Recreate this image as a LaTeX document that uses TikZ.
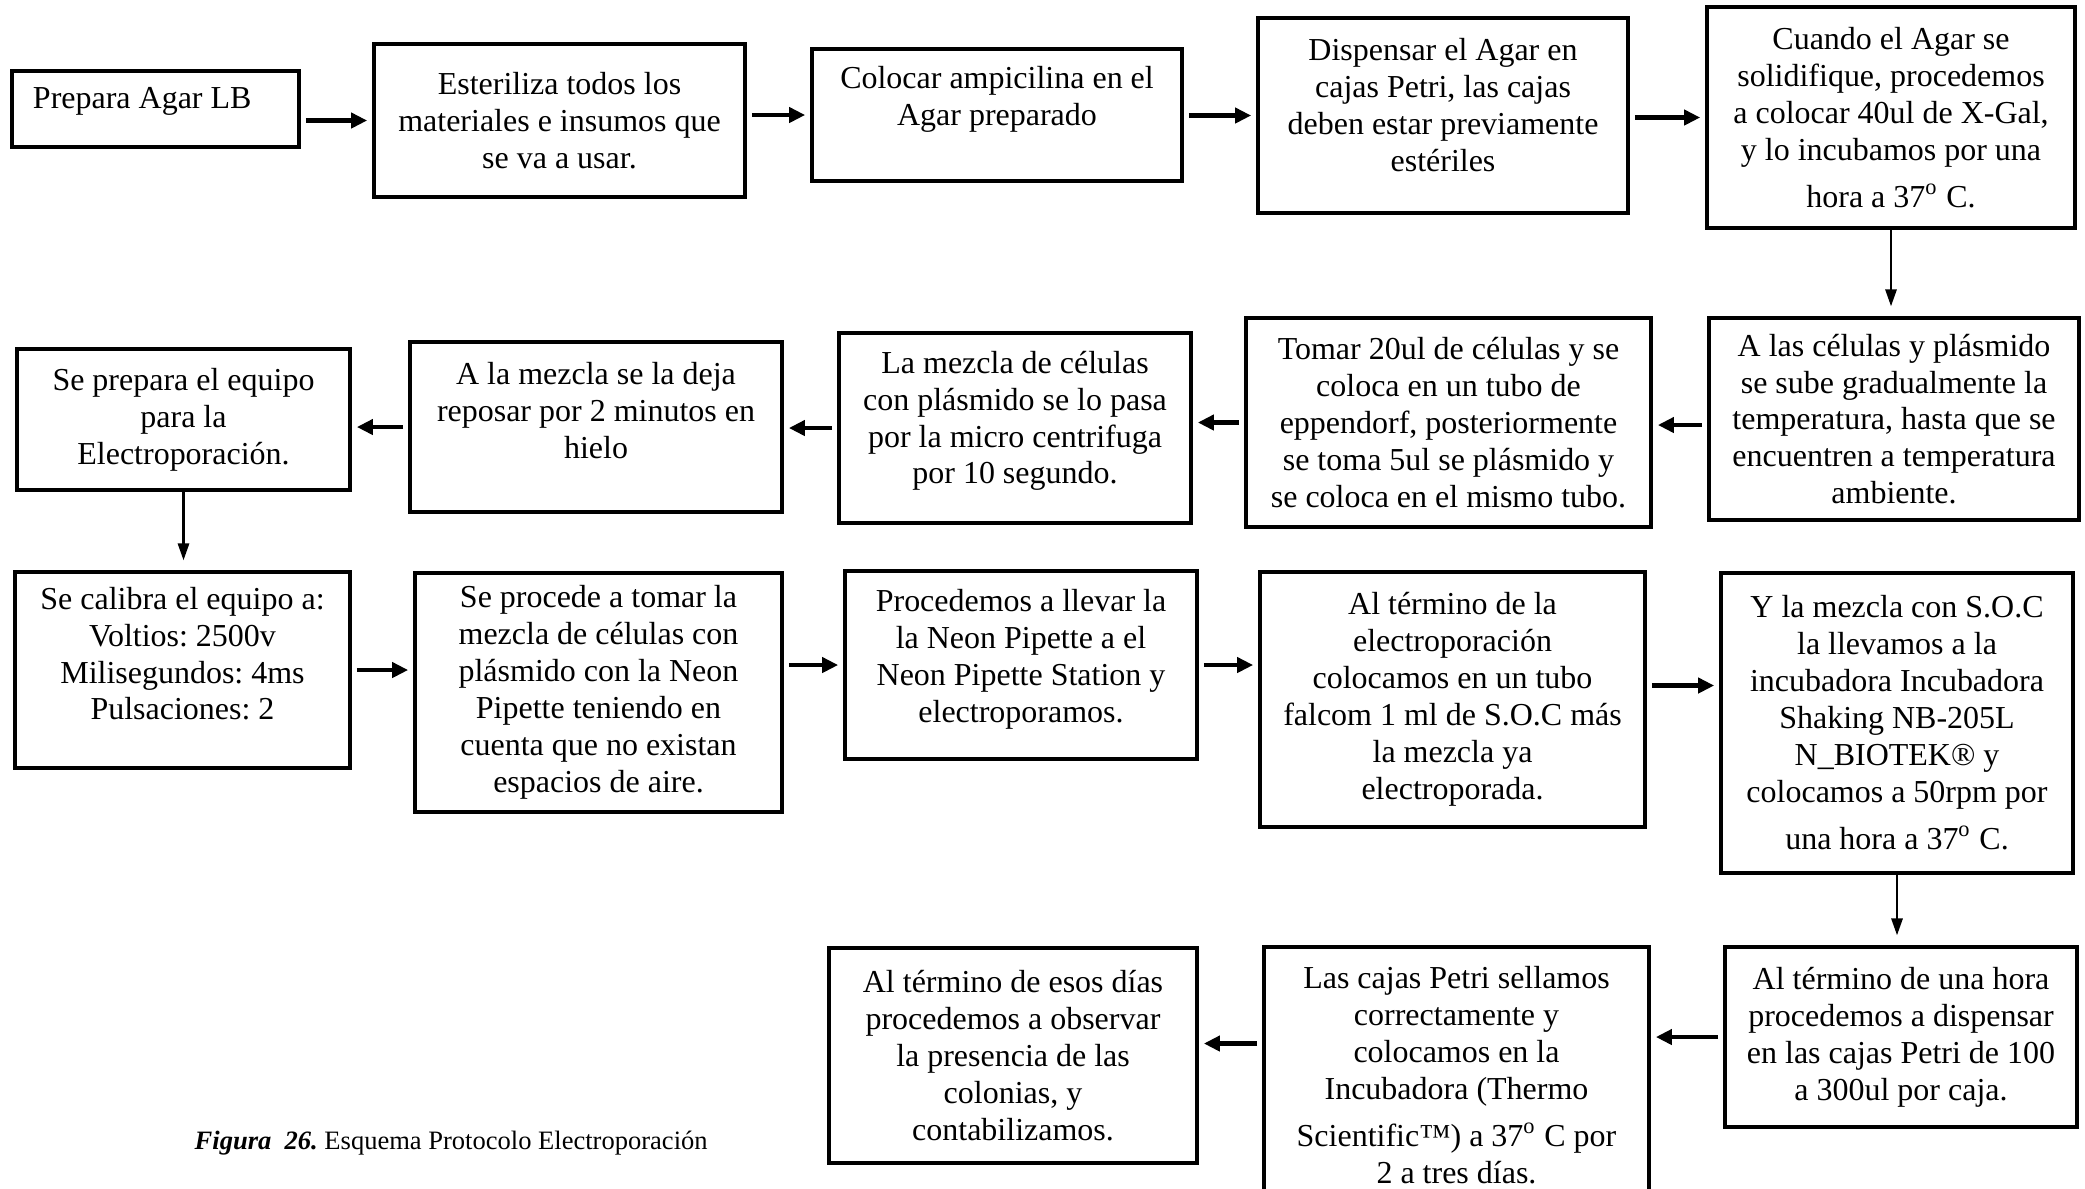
\documentclass[tikz,border=0pt]{standalone}
\usepackage{fontspec}
\setmainfont{Liberation Serif}
\usetikzlibrary{arrows.meta}
\frenchspacing

\begin{document}
\begin{tikzpicture}[paso/.style={draw, line width=0.9pt, align=center, inner sep=2pt, font=\fontsize{9.1}{10.5}\selectfont}, caja/.style 2 args={paso, minimum width=#1, minimum height=#2}, sube/.style={text depth=#1}, flecha/.style={-{Triangle[length=0.16cm,width=0.15cm]}, line width=1.3pt, shorten <=1.5pt, shorten >=1.5pt}, abajo/.style={-{Triangle[length=0.17cm,width=0.11cm]}, line width=0.8pt, shorten >=0.1cm}]
\useasboundingbox (0,0) rectangle (20.85,-11.88);
\clip (0,0) rectangle (20.85,-11.88);
% fila 1
\node[caja={2.87cm}{0.76cm}, text width=2.45cm, align=flush left, sube=6.5pt] (b1) at (1.555,-1.09) {Prepara Agar LB};
\node[caja={3.71cm}{1.53cm}] (b2) at (5.595,-1.205) {Esteriliza todos los\\materiales e insumos que\\se va a usar.};
\node[caja={3.70cm}{1.32cm}, sube=11pt] (b3) at (9.97,-1.15) {Colocar ampicilina en el\\Agar preparado};
\node[caja={3.70cm}{1.95cm}, sube=6pt] (b4) at (14.43,-1.155) {Dispensar el Agar en\\cajas Petri, las cajas\\deben estar previamente\\estériles};
\node[caja={3.68cm}{2.21cm}] (b5) at (18.91,-1.175) {Cuando el Agar se\\solidifique, procedemos\\a colocar 40ul de X-Gal,\\y lo incubamos por una\\[3pt]hora a 37\textsuperscript{o} C.};
% fila 2
\node[caja={3.70cm}{2.02cm}] (b6) at (18.94,-4.19) {A las células y plásmido\\se sube gradualmente la\\temperatura, hasta que se\\encuentren a temperatura\\ambiente.};
\node[caja={4.05cm}{2.09cm}] (b7) at (14.485,-4.225) {Tomar 20ul de células y se\\coloca en un tubo de\\eppendorf, posteriormente\\se toma 5ul se plásmido y\\se coloca en el mismo tubo.};
\node[caja={3.52cm}{1.90cm}, sube=6pt] (b8) at (10.15,-4.28) {La mezcla de células\\con plásmido se lo pasa\\por la micro centrifuga\\por 10 segundo.};
\node[caja={3.72cm}{1.70cm}, sube=9.6pt] (b9) at (5.96,-4.27) {A la mezcla se la deja\\reposar por 2 minutos en\\hielo};
\node[caja={3.33cm}{1.41cm}] (b10) at (1.835,-4.195) {Se prepara el equipo\\para la\\Electroporación.};
% fila 3
\node[caja={3.35cm}{1.96cm}, sube=9.4pt] (b11) at (1.825,-6.70) {Se calibra el equipo a:\\Voltios: 2500v\\Milisegundos: 4ms\\Pulsaciones: 2};
\node[caja={3.67cm}{2.39cm}] (b12) at (5.985,-6.925) {Se procede a tomar la\\mezcla de células con\\plásmido con la Neon\\Pipette teniendo en\\cuenta que no existan\\espacios de aire.};
\node[caja={3.52cm}{1.88cm}, sube=5pt] (b13) at (10.21,-6.65) {Procedemos a llevar la\\la Neon Pipette a el\\Neon Pipette Station y\\electroporamos.};
\node[caja={3.85cm}{2.55cm}] (b14) at (14.525,-6.995) {Al término de la\\electroporación\\colocamos en un tubo\\falcom 1 ml de S.O.C más\\la mezcla ya\\electroporada.};
\node[caja={3.52cm}{3.00cm}] (b15) at (18.97,-7.23) {Y la mezcla con S.O.C\\la llevamos a la\\incubadora Incubadora\\Shaking NB-205L\\N\_BIOTEK® y\\colocamos a 50rpm por\\[3pt]una hora a 37\textsuperscript{o} C.};
% fila 4
\node[caja={3.52cm}{1.80cm}] (b16) at (19.01,-10.37) {Al término de una hora\\procedemos a dispensar\\en las cajas Petri de 100\\a 300ul por caja.};
\node[caja={3.85cm}{2.56cm}] (b17) at (14.565,-10.75) {Las cajas Petri sellamos\\correctamente y\\colocamos en la\\Incubadora (Thermo\\[3pt]Scientific™) a 37\textsuperscript{o} C por\\2 a tres días.};
\node[caja={3.68cm}{2.15cm}] (b18) at (10.13,-10.555) {Al término de esos días\\procedemos a observar\\la presencia de las\\colonias, y\\contabilizamos.};
\node[anchor=west, inner sep=0pt, font=\fontsize{7.55}{9}\selectfont] (pie) at (1.94,-11.43) {\textbf{\textit{Figura\ \ 26.}} Esquema Protocolo Electroporación};
% flechas
\draw[flecha] (b1.east |- b2.west) -- (b2.west);
\draw[flecha] (b2.east |- b3.west) -- (b3.west);
\draw[flecha] (b3.east |- b4.west) -- (b4.west);
\draw[flecha] (b4.east |- b5.west) -- (b5.west);
\draw[abajo] (b5.south) -- (b5.south |- b6.north);
\draw[flecha] ([yshift=-0.06cm]b6.west) -- ([yshift=-0.06cm]b6.west -| b7.east);
\draw[flecha] (b7.west) -- (b7.west -| b8.east);
\draw[flecha] (b8.west) -- (b8.west -| b9.east);
\draw[flecha] (b9.west) -- (b9.west -| b10.east);
\draw[abajo] (b10.south) -- (b10.south |- b11.north);
\draw[flecha] (b11.east) -- (b11.east -| b12.west);
\draw[flecha] (b13.west -| b12.east) -- (b13.west);
\draw[flecha] (b13.east) -- (b13.east -| b14.west);
\draw[flecha] ([yshift=0.14cm]b14.east) -- ([yshift=0.14cm]b14.east -| b15.west);
\draw[abajo] (b15.south) -- (b15.south |- b16.north);
\draw[flecha] (b16.west) -- (b16.west -| b17.east);
\draw[flecha] ([yshift=0.12cm]b18.east -| b17.west) -- ([yshift=0.12cm]b18.east);
\end{tikzpicture}
\end{document}
